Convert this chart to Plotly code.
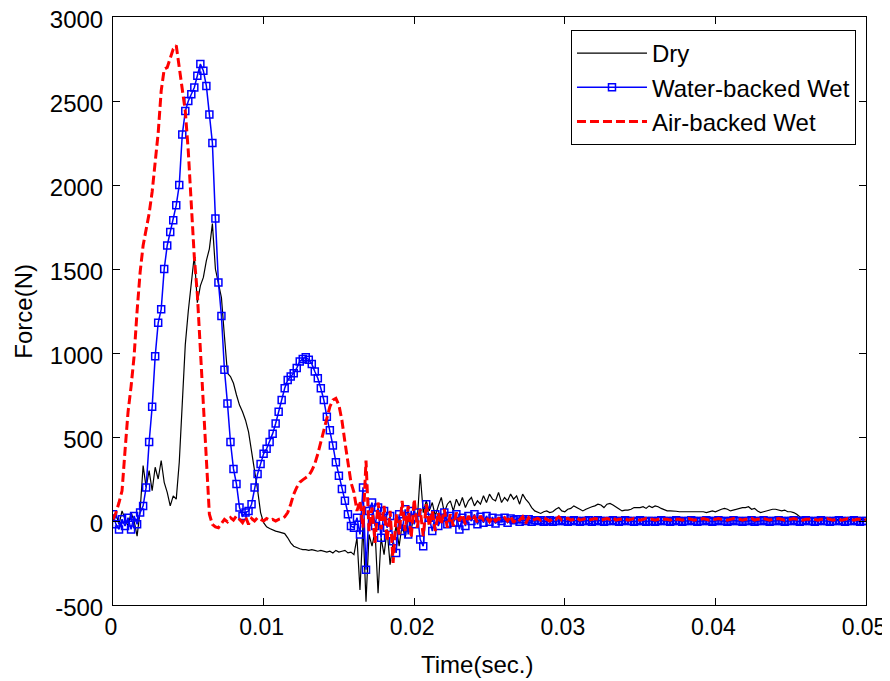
import plotly.graph_objects as go

# sampling step of the recorded signals (s)
TIME_STEP = 0.0002

dry = [
    0, 40, -20, 60, 10, -30, 50, 0, -90, 60,
    330, 200, 300, 180, 320, 250, 360, 230, 170, 90,
    150, 130, 350, 750, 1050, 1250, 1400, 1580, 1300, 1400,
    1450, 1550, 1620, 1770, 1500, 1420, 1330, 1100, 880, 860,
    820, 750, 690, 650, 600, 530, 400, 300, 185, 50,
    -10, -35, -45, -55, -60, -65, -70, -75, -100, -130,
    -150, -160, -165, -170, -170, -175, -170, -175, -180, -175,
    -180, -185, -180, -190, -175, -185, -180, -175, -190, -185,
    -200, -100, -410, -20, -480, -80, -150, -60, -430, -100,
    -200, -50, -260, -120, -30, -150, -20, -100, 20, -60,
    60, 0, 280, 50, 120, 60, 110, 30, 90, 140,
    50, 100, 120, 60, 130, 90, 140, 80, 120, 140,
    90, 120, 100, 150, 110, 160, 130, 120, 170, 110,
    140, 120, 160, 130, 150, 100, 160, 130, 110, 80,
    60, 50, 45, 55, 60, 50, 55, 70, 80, 60,
    55, 70, 75, 90, 80, 70, 60, 70, 80, 85,
    90, 100, 95, 80, 100, 105, 95, 85, 70, 60,
    65, 65, 70, 80, 80, 80, 85, 75, 90, 80,
    90, 85, 75, 65, 60, 60, 60, 58, 55, 55,
    55, 55, 55, 55, 55, 55, 55, 50, 55, 60,
    55, 65, 70, 75, 70, 60, 65, 70, 75, 80,
    80, 85, 70, 75, 60, 50, 55, 60, 65, 70,
    70, 65, 60, 65, 55, 55, 50, 40, 25, 20,
    20, 20, 18, 20, 18, 15, 15, 12, 12, 10,
    10, 10, 10, 8, 8, 8, 8, 8, 8, 8,
    8,
]

water_backed = [
    40, -20, -50, 10, -30, 20, -50, 30, -20, 50,
    90, 200, 470, 680, 980, 1180, 1260, 1500, 1640, 1720,
    1790, 1880, 2000, 2300, 2440, 2500, 2540, 2580, 2650, 2720,
    2680, 2590, 2420, 2250, 1800, 1420, 1220, 900, 700, 470,
    310, 220, 80, 30, 50, 60, 100, 200, 280, 340,
    400, 430, 470, 520, 580, 650, 720, 790, 840, 860,
    880, 910, 950, 965, 975, 960, 935, 890, 850, 790,
    720, 620, 540, 450, 350, 270, 190, 120, 40, -30,
    -40, 20, -80, 200, -290, 60, 110, -30, 80, -100,
    60, -40, 30, -120, -190, 40, -60, 70, -80, 60,
    -20, 50, -110, -150, 100, 20, -60, 40, -30, 20,
    50, -20, 30, -10, 40, -50, 20, -30, 30, 0,
    40, -20, 25, -10, 30, -5, 20, -15, 15, 0,
    20, -10, 15, 5, 10, -5, 10, 0, 10, -5,
    5, 0, 5, -5, 0, 5, -5, 0, 0, 5,
    0, -5, 0, 5, 0, -5, 0, 0, 5, -5,
    0, 5, 0, -5, 0, 0, 5, 0, -5, 0,
    5, 0, 0, -5, 0, 5, 0, -5, 0, 0,
    -5, 0, 5, 0, 0, -5, 0, 5, 0, -5,
    0, 0, 5, 0, -5, 0, 0, 5, 0, -5,
    0, 5, 0, 0, -5, 0, 5, 0, 0, -5,
    0, 0, 5, -5, 0, 0, 5, 0, -5, 0,
    0, 5, 0, -5, 0, 0, 5, 0, -5, 0,
    5, 0, 0, -5, 0, 5, 0, 0, -5, 0,
    0, 5, 0, -5, 0, 0, 5, 0, -5, 0,
    0,
]

air_backed = [
    10, 50, 110, 180, 420, 650, 800, 980, 1250, 1480,
    1640, 1740, 1830, 1960, 2130, 2310, 2560, 2690, 2700, 2760,
    2810, 2830, 2700, 2570, 2440, 2200, 1860, 1570, 1350, 1020,
    700, 330, 40, -20, -35, -40, -15, 10, -5, 20,
    5, 30, 10, -10, 25, -20, 15, 0, 20, 10,
    0, 15, 5, 10, 0, 10, 15, 25, 50, 100,
    160, 200, 230, 245, 255, 270, 300, 340, 400, 470,
    530, 610, 680, 720, 730, 690, 600, 470, 340, 230,
    170, 60, 120, -40, 360, -60, 80, -130, 110, -50,
    90, -120, 60, -250, 40, -80, 120, -60, 90, -100,
    130, -40, 70, -90, 100, -30, 60, -60, 50, -20,
    70, -40, 40, -30, 50, 0, 40, -20, 30, 0,
    25, -10, 30, 5, 20, -5, 25, 0, 15, 5,
    20, 0, 30, -10, 15, 5, 25, -15, 20, 0,
    10, 15, 5, 20, 10, 0, 15, 10, 25, 5,
    10, 15, 5, 10, 20, 5, 10, 15, 5, 10,
    15, 10, 5, 10, 15, 10, 20, 5, 10, 10,
    15, 5, 10, 15, 10, 5, 10, 15, 10, 10,
    5, 10, 15, 10, 10, 5, 15, 10, 10, 5,
    10, 15, 10, 5, 10, 10, 15, 10, 5, 10,
    10, 15, 10, 10, 5, 10, 15, 10, 10, 5,
    10, 10, 15, 5, 10, 10, 15, 10, 5, 10,
    10, 15, 10, 5, 10, 10, 15, 10, 10, 5,
    10, 10, 15, 10, 5, 10, 10, 15, 10, 5,
    10, 10, 5, 10, 15, 10, 5, 10, 10, 5,
    10,
]

time_s = [round(i * TIME_STEP, 6) for i in range(len(dry))]

x_ticks = [0, 0.01, 0.02, 0.03, 0.04, 0.05]
x_tick_labels = ["0", "0.01", "0.02", "0.03", "0.04", "0.05"]
y_ticks = [-500, 0, 500, 1000, 1500, 2000, 2500, 3000]
y_tick_labels = ["-500", "0", "500", "1000", "1500", "2000", "2500", "3000"]

FONT = "Liberation Sans, Arial, sans-serif"

fig = go.Figure()
fig.add_trace(go.Scatter(
    x=time_s, y=dry, name="Dry", mode="lines",
    line=dict(color="black", width=1.2),
))
fig.add_trace(go.Scatter(
    x=time_s, y=water_backed, name="Water-backed Wet", mode="lines+markers",
    line=dict(color="#0000ff", width=1.5),
    marker=dict(symbol="square-open", size=7, color="#0000ff", line=dict(width=1.5, color="#0000ff")),
))
fig.add_trace(go.Scatter(
    x=time_s, y=air_backed, name="Air-backed Wet", mode="lines",
    line=dict(color="#ff0000", width=3, dash="9px,4px"),
))

axis_common = dict(
    showline=True, linecolor="black", linewidth=1, mirror="ticks",
    ticks="inside", ticklen=7, tickwidth=1, tickcolor="black",
    showgrid=False, zeroline=False, automargin=False,
    ticklabeloverflow="allow",
)

fig.update_xaxes(range=[0, 0.05], tickvals=x_ticks, ticktext=x_tick_labels,
                 ticklabelstandoff=1, ticklabelshift=-2,
                 tickfont=dict(family=FONT, size=23, color="black"), **axis_common)
fig.update_yaxes(range=[-500, 3000], tickvals=y_ticks, ticktext=y_tick_labels,
                 ticklabelstandoff=4, ticklabelshift=3,
                 tickfont=dict(family=FONT, size=24, color="black"), **axis_common)

# the page body adds an 8px offset; the figure is sized so the plot box lands
# at 113..866 x 17..605 in the 890x681 window
fig.update_layout(
    width=882, height=673,
    margin=dict(l=105, r=24, t=9, b=76, autoexpand=False),
    paper_bgcolor="white", plot_bgcolor="white",
    font=dict(family=FONT, size=24, color="black"),
    showlegend=True,
    legend=dict(
        x=0.9867, y=0.978, xanchor="right", yanchor="top",
        bgcolor="white", bordercolor="black", borderwidth=1,
        font=dict(family=FONT, size=24, color="black"),
        tracegroupgap=0, itemwidth=70,
    ),
    annotations=[
        dict(text="Time(sec.)", xref="paper", yref="paper", x=0.483, y=-0.102,
             xanchor="center", yanchor="middle", showarrow=False,
             font=dict(family=FONT, size=24, color="black")),
        dict(text="Force(N)", xref="paper", yref="paper", x=-0.12, y=0.5,
             xanchor="center", yanchor="middle", showarrow=False, textangle=-90,
             font=dict(family=FONT, size=24, color="black")),
    ],
)

fig.write_html("out.html")
